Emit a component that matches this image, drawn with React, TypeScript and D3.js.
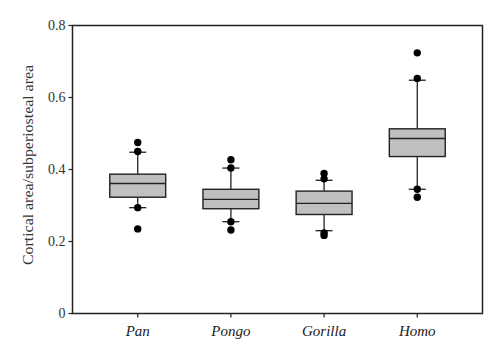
import React from "react";
import * as d3 from "d3";

const categories = ["Pan", "Pongo", "Gorilla", "Homo"];
const q1 = [0.323, 0.291, 0.275, 0.436];
const medians = [0.361, 0.317, 0.306, 0.486];
const q3 = [0.387, 0.345, 0.340, 0.513];
const whiskerLow = [0.294, 0.255, 0.230, 0.345];
const whiskerHigh = [0.448, 0.404, 0.370, 0.648];
const outliers = [
  [0.475, 0.450, 0.294, 0.235],
  [0.427, 0.404, 0.255, 0.232],
  [0.389, 0.374, 0.224, 0.217],
  [0.724, 0.653, 0.345, 0.323],
];
const yTicks = [0, 0.2, 0.4, 0.6, 0.8];
const yTickLabels = ["0", "0.2", "0.4", "0.6", "0.8"];
const yLabel = "Cortical area/subperiosteal area";

export default function App() {
  const W = 500, H = 357;
  const left = 72.5, right = 482.5, top = 25.5, bottom = 313.5;
  const x = d3.scalePoint<string>().domain(categories).range([left, right]).padding(0.7);
  const y = d3.scaleLinear().domain([0, 0.8]).range([bottom, top]);
  const step = x.step();
  const boxW = step * 0.6;
  const capW = 17;
  const ink = "#222";
  const font = "'Liberation Serif', 'DejaVu Serif', serif";

  return (
    <svg width={W} height={H} style={{ position: "absolute", left: 0, top: 0, background: "#fff" }}>
      <rect x={left} y={top} width={right - left} height={bottom - top} fill="none" stroke={ink} strokeWidth={1.5} />
      {yTicks.map((t, i) => (
        <g key={i}>
          <line x1={left - 4} x2={left} y1={y(t)} y2={y(t)} stroke={ink} strokeWidth={1.2} />
          <text x={left - 7} y={y(t)} dy="0.35em" textAnchor="end" fontFamily={font} fontSize={14} fill="#333">
            {yTickLabels[i]}
          </text>
        </g>
      ))}
      {categories.map((c, i) => {
        const cx = x(c)!;
        return (
          <g key={c}>
            <line x1={cx} x2={cx} y1={bottom} y2={bottom + 4} stroke={ink} strokeWidth={1.2} />
            <text x={cx} y={bottom + 22.5} textAnchor="middle" fontFamily={font} fontStyle="italic" fontSize={15} fill="#222">
              {c}
            </text>
            <line x1={cx} x2={cx} y1={y(whiskerHigh[i])} y2={y(q3[i])} stroke={ink} strokeWidth={1.3} />
            <line x1={cx} x2={cx} y1={y(q1[i])} y2={y(whiskerLow[i])} stroke={ink} strokeWidth={1.3} />
            <line x1={cx - capW / 2} x2={cx + capW / 2} y1={y(whiskerHigh[i])} y2={y(whiskerHigh[i])} stroke={ink} strokeWidth={1.3} />
            <line x1={cx - capW / 2} x2={cx + capW / 2} y1={y(whiskerLow[i])} y2={y(whiskerLow[i])} stroke={ink} strokeWidth={1.3} />
            <rect x={cx - boxW / 2} y={y(q3[i])} width={boxW} height={y(q1[i]) - y(q3[i])} fill="#c0c0c0" stroke={ink} strokeWidth={1.4} />
            <line x1={cx - boxW / 2} x2={cx + boxW / 2} y1={y(medians[i])} y2={y(medians[i])} stroke={ink} strokeWidth={1.4} />
            {outliers[i].map((v, j) => (
              <circle key={j} cx={cx} cy={y(v)} r={3.7} fill="#000" />
            ))}
          </g>
        );
      })}
      <text
        transform={`translate(33, 165) rotate(-90)`}
        textAnchor="middle"
        fontFamily={font}
        fontSize={14.5}
        textLength={200}
        lengthAdjust="spacingAndGlyphs"
        fill="#333"
      >
        {yLabel}
      </text>
    </svg>
  );
}
